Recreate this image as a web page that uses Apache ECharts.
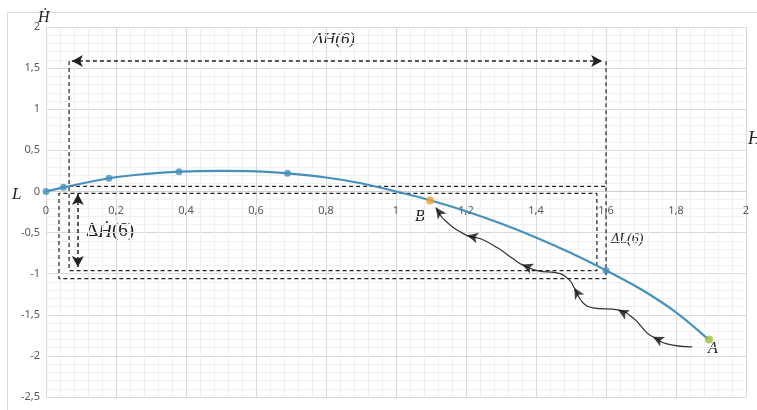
<!DOCTYPE html>
<html><head><meta charset="utf-8">
<script src="https://cdn.jsdelivr.net/npm/echarts@6/dist/echarts.min.js"></script>
<style>html,body{margin:0;padding:0;background:#fff}#c{width:757px;height:410px}</style>
</head><body><div id="c"></div>
<script>
// Axis ranges / ticks
const xTicks = [0, 0.2, 0.4, 0.6, 0.8, 1, 1.2, 1.4, 1.6, 1.8, 2];
const yTicks = [-2.5, -2, -1.5, -1, -0.5, 0, 0.5, 1, 1.5, 2];

// Main curve
const curveX = [0, 0.05, 0.18, 0.28, 0.38, 0.5, 0.6, 0.69, 0.8, 0.9, 1.0, 1.1, 1.2, 1.3, 1.4, 1.5, 1.6, 1.7, 1.8, 1.89];
const curveY = [0, 0.05, 0.16, 0.21, 0.24, 0.25, 0.245, 0.22, 0.17, 0.10, 0.0, -0.11, -0.24, -0.39, -0.56, -0.75, -0.96, -1.19, -1.47, -1.79];

// Marked points
const markX = [0, 0.05, 0.18, 0.38, 0.69, 1.6];
const markY = [0, 0.05, 0.16, 0.24, 0.22, -0.96];
const pointB = [1.097, -0.11];
const pointA = [1.894, -1.80];

// Gray "L" line
const lLineX = [-0.066, 0];
const lLineY = [-0.29, 0];

// Wavy trajectory from A to B
const pathX = [1.846, 1.774, 1.734, 1.717, 1.677, 1.634, 1.563, 1.534, 1.509, 1.497, 1.469, 1.403, 1.36, 1.334, 1.289, 1.24, 1.203, 1.14, 1.114];
const pathY = [-1.89, -1.854, -1.768, -1.72, -1.537, -1.44, -1.415, -1.354, -1.171, -1.085, -1.0, -0.963, -0.89, -0.817, -0.683, -0.573, -0.537, -0.354, -0.195];
const arrowIdx = [2, 5, 8, 12, 16, 18];

// Dashed construction lines
const dashAX = [0.066, 0.066, 1.574, 1.574, 0.037, 0.037, 1.6, 1.6];
const dashAY = [1.585, -0.963, -0.963, -0.024, -0.024, -1.06, -1.06, 1.585];
const dashBX = [0.066, 1.6];
const dashBY = [0.061, 0.061];
const arrowH = [[0.074, 1.585], [1.589, 1.585]];
const arrowHdot = [[0.091, -0.03], [0.091, -0.92]];

const zip = (a, b) => a.map((v, i) => [v, b[i]]);
const fmt = v => String(Math.round(v * 10) / 10).replace('.', ',');

const chart = echarts.init(document.getElementById('c'));
const serif = "Liberation Serif, DejaVu Serif, serif";
const blue = '#4690BE';
const gridTop = 27, gridBottom = 13, H = 410;
const yMin = yTicks[0], yMax = yTicks[yTicks.length - 1];
// place x axis on y=0
const xAxisOffset = -(H - gridTop - gridBottom) * (0 - yMin) / (yMax - yMin);

function txt(t, left, top, size, italic) {
  return { type: 'text', left: left, top: top, style: { text: t, fontFamily: serif, fontSize: size, fontStyle: italic ? 'italic' : 'normal', fill: '#222' } };
}

function buildOption(rots) {
  return {
    animation: false,
    grid: { left: 46, right: 11, top: gridTop, bottom: gridBottom },
    xAxis: {
      type: 'value', min: xTicks[0], max: xTicks[xTicks.length - 1], interval: 0.2,
      position: 'bottom', offset: xAxisOffset,
      axisLine: { onZero: false, show: true, lineStyle: { color: '#d0d0d0', width: 1 } },
      axisTick: { show: false },
      axisLabel: { formatter: fmt, color: '#595959', fontSize: 11, fontFamily: "'Noto Sans',sans-serif", margin: 14 },
      splitLine: { lineStyle: { color: '#d9d9d9' } },
      minorTick: { show: false, splitNumber: 5 },
      minorSplitLine: { show: true, lineStyle: { color: '#f0f0f0' } }
    },
    yAxis: {
      type: 'value', min: yMin, max: yMax, interval: 0.5,
      axisLine: { show: true, onZero: false, lineStyle: { color: '#d9d9d9' } },
      axisTick: { show: false },
      axisLabel: { formatter: fmt, color: '#595959', fontSize: 11, fontFamily: "'Noto Sans',sans-serif", margin: 6 },
      splitLine: { lineStyle: { color: '#d9d9d9' } },
      minorTick: { show: false, splitNumber: 5 },
      minorSplitLine: { show: true, lineStyle: { color: '#f0f0f0' } }
    },
    graphic: [
      { type: 'rect', shape: { x: 7.5, y: 12.5, width: 770, height: 420 }, style: { fill: 'none', stroke: '#d9d9d9', lineWidth: 1 }, silent: true, z: -10 },
      txt('Ḣ', 38, 10, 16, true),
      txt('H', 748, 130, 18, true),
      txt('L', 12, 186, 17, true),
      txt('B', 415, 209, 16, true),
      txt('A', 708, 341, 16, true),
      txt('ΔH(6)', 313, 31, 17, true),
      txt('ΔL(6)', 611, 232, 14, true),
      { type: 'text', left: 86, top: 222, style: {
          text: '{a|Δ}{b|Ḣ}{a|(6)}', fill: '#222',
          rich: { a: { fontFamily: serif, fontSize: 19, fill: '#222' }, b: { fontFamily: serif, fontSize: 19, fontStyle: 'italic', fill: '#222' } }
      } }
    ],
    series: [
      { type: 'line', data: zip(dashAX, dashAY), showSymbol: false, silent: true, z: 3,
        lineStyle: { color: '#222', width: 1.2, type: [4, 3] },
        markLine: {
          silent: true, symbol: ['arrow', 'arrow'], symbolSize: [9, 11], label: { show: false },
          lineStyle: { color: '#222', width: 1.5, type: [4, 3] },
          data: [
            [{ coord: arrowH[0] }, { coord: arrowH[1] }],
            [{ coord: arrowHdot[0] }, { coord: arrowHdot[1] }]
          ]
        } },
      { type: 'line', data: zip(dashBX, dashBY), showSymbol: false, silent: true, z: 3,
        lineStyle: { color: '#222', width: 1.2, type: [4, 3] } },
      { type: 'line', data: zip(lLineX, lLineY), showSymbol: false, clip: false, silent: true,
        lineStyle: { color: '#a6a6a6', width: 1.5 } },
      { type: 'line', data: zip(curveX, curveY), smooth: 0.35, showSymbol: false, z: 5,
        lineStyle: { color: blue, width: 2.2 } },
      { type: 'scatter', data: zip(markX, markY), symbolSize: 7, z: 6, itemStyle: { color: blue } },
      { type: 'scatter', data: [pointB], symbolSize: 8, z: 6, itemStyle: { color: '#F0A030' } },
      { type: 'scatter', data: [pointA], symbolSize: 8, z: 6, itemStyle: { color: '#9BBB3B' } },
      { type: 'line', data: zip(pathX, pathY), smooth: 0.45, showSymbol: false, z: 4,
        lineStyle: { color: '#333', width: 1.2 } },
      { type: 'scatter', z: 7, symbol: 'arrow', symbolSize: [8, 11], itemStyle: { color: '#111' },
        data: arrowIdx.map((i, k) => ({ value: [pathX[i], pathY[i]], symbolRotate: rots ? rots[k] : 0 })) }
    ]
  };
}
chart.setOption(buildOption(null));
const rots = arrowIdx.map(i => {
  const p0 = chart.convertToPixel({ gridIndex: 0 }, [pathX[i - 1], pathY[i - 1]]);
  const p1 = chart.convertToPixel({ gridIndex: 0 }, [pathX[i], pathY[i]]);
  const dx = p1[0] - p0[0], dy = p1[1] - p0[1];
  return Math.atan2(-dx, -dy) * 180 / Math.PI;
});
chart.setOption(buildOption(rots));
</script></body></html>
